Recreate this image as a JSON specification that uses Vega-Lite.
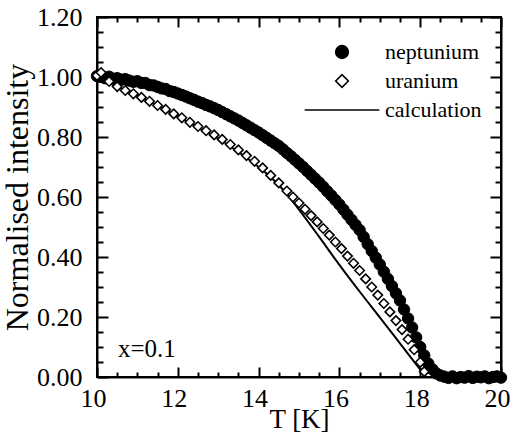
{
"$schema": "https://vega.github.io/schema/vega-lite/v6.json",
"width": 404, "height": 360,
"autosize": {"type": "none"},
"padding": {"left": 97, "top": 17, "right": 10, "bottom": 66},
"background": "white",
"config": {
 "view": {"stroke": "black", "strokeWidth": 2},
 "font": "Liberation Serif",
 "axis": {"domainColor": "black", "domainWidth": 2, "tickColor": "black", "tickWidth": 2, "labelColor": "black", "labelFont": "Liberation Serif", "labelFontSize": 26, "titleFont": "Liberation Serif", "titleFontSize": 30, "titleFontWeight": "normal", "titleColor": "black", "grid": false, "labelFlush": false, "labelOverlap": false},
 "legend": {"title": null, "orient": "none", "legendX": 234, "legendY": 24, "padding": 0, "labelFont": "Liberation Serif", "labelFontSize": 22, "labelColor": "black", "symbolSize": 160, "symbolStrokeColor": "black", "symbolStrokeWidth": 1.6, "labelOffset": 32, "rowPadding": 7}
},
"data": {"values": [
{"series":"neptunium","T":10.0,"I":1.003},{"series":"neptunium","T":10.1,"I":1.000},{"series":"neptunium","T":10.2,"I":0.996},{"series":"neptunium","T":10.3,"I":1.001},{"series":"neptunium","T":10.4,"I":0.994},{"series":"neptunium","T":10.5,"I":0.996},{"series":"neptunium","T":10.6,"I":0.991},{"series":"neptunium","T":10.7,"I":0.993},{"series":"neptunium","T":10.8,"I":0.988},{"series":"neptunium","T":10.9,"I":0.984},
{"series":"neptunium","T":11.0,"I":0.986},{"series":"neptunium","T":11.1,"I":0.980},{"series":"neptunium","T":11.2,"I":0.980},{"series":"neptunium","T":11.3,"I":0.973},{"series":"neptunium","T":11.4,"I":0.972},{"series":"neptunium","T":11.5,"I":0.967},{"series":"neptunium","T":11.6,"I":0.962},{"series":"neptunium","T":11.7,"I":0.960},{"series":"neptunium","T":11.8,"I":0.953},{"series":"neptunium","T":11.9,"I":0.950},
{"series":"neptunium","T":12.0,"I":0.945},{"series":"neptunium","T":12.1,"I":0.940},{"series":"neptunium","T":12.2,"I":0.935},{"series":"neptunium","T":12.3,"I":0.929},{"series":"neptunium","T":12.4,"I":0.924},{"series":"neptunium","T":12.5,"I":0.918},{"series":"neptunium","T":12.6,"I":0.913},{"series":"neptunium","T":12.7,"I":0.907},{"series":"neptunium","T":12.8,"I":0.902},{"series":"neptunium","T":12.9,"I":0.896},
{"series":"neptunium","T":13.0,"I":0.890},{"series":"neptunium","T":13.1,"I":0.883},{"series":"neptunium","T":13.2,"I":0.876},{"series":"neptunium","T":13.3,"I":0.869},{"series":"neptunium","T":13.4,"I":0.862},{"series":"neptunium","T":13.5,"I":0.855},{"series":"neptunium","T":13.6,"I":0.847},{"series":"neptunium","T":13.7,"I":0.839},{"series":"neptunium","T":13.8,"I":0.831},{"series":"neptunium","T":13.9,"I":0.823},
{"series":"neptunium","T":14.0,"I":0.815},{"series":"neptunium","T":14.1,"I":0.806},{"series":"neptunium","T":14.2,"I":0.797},{"series":"neptunium","T":14.3,"I":0.788},{"series":"neptunium","T":14.4,"I":0.779},{"series":"neptunium","T":14.5,"I":0.770},{"series":"neptunium","T":14.6,"I":0.759},{"series":"neptunium","T":14.7,"I":0.747},{"series":"neptunium","T":14.8,"I":0.736},{"series":"neptunium","T":14.9,"I":0.724},
{"series":"neptunium","T":15.0,"I":0.712},{"series":"neptunium","T":15.1,"I":0.700},{"series":"neptunium","T":15.2,"I":0.687},{"series":"neptunium","T":15.3,"I":0.674},{"series":"neptunium","T":15.4,"I":0.661},{"series":"neptunium","T":15.5,"I":0.648},{"series":"neptunium","T":15.6,"I":0.634},{"series":"neptunium","T":15.7,"I":0.619},{"series":"neptunium","T":15.8,"I":0.605},{"series":"neptunium","T":15.9,"I":0.590},
{"series":"neptunium","T":16.0,"I":0.575},{"series":"neptunium","T":16.1,"I":0.558},{"series":"neptunium","T":16.2,"I":0.541},{"series":"neptunium","T":16.3,"I":0.524},{"series":"neptunium","T":16.4,"I":0.507},{"series":"neptunium","T":16.5,"I":0.490},{"series":"neptunium","T":16.6,"I":0.467},{"series":"neptunium","T":16.7,"I":0.443},{"series":"neptunium","T":16.8,"I":0.420},{"series":"neptunium","T":16.9,"I":0.398},
{"series":"neptunium","T":17.0,"I":0.375},{"series":"neptunium","T":17.1,"I":0.351},{"series":"neptunium","T":17.2,"I":0.327},{"series":"neptunium","T":17.3,"I":0.303},{"series":"neptunium","T":17.4,"I":0.279},{"series":"neptunium","T":17.5,"I":0.255},{"series":"neptunium","T":17.6,"I":0.225},{"series":"neptunium","T":17.7,"I":0.195},{"series":"neptunium","T":17.8,"I":0.165},{"series":"neptunium","T":17.9,"I":0.132},
{"series":"neptunium","T":18.0,"I":0.100},{"series":"neptunium","T":18.1,"I":0.072},{"series":"neptunium","T":18.2,"I":0.045},{"series":"neptunium","T":18.3,"I":0.026},{"series":"neptunium","T":18.4,"I":0.012},{"series":"neptunium","T":18.5,"I":0.005},{"series":"neptunium","T":18.6,"I":0.001},{"series":"neptunium","T":18.7,"I":-0.003},{"series":"neptunium","T":18.8,"I":0.002},{"series":"neptunium","T":18.9,"I":-0.004},
{"series":"neptunium","T":19.0,"I":0.000},{"series":"neptunium","T":19.1,"I":-0.002},{"series":"neptunium","T":19.2,"I":0.003},{"series":"neptunium","T":19.3,"I":-0.003},{"series":"neptunium","T":19.4,"I":0.001},{"series":"neptunium","T":19.5,"I":-0.001},{"series":"neptunium","T":19.6,"I":0.002},{"series":"neptunium","T":19.7,"I":-0.004},{"series":"neptunium","T":19.8,"I":0.000},{"series":"neptunium","T":19.9,"I":0.002},{"series":"neptunium","T":20.0,"I":-0.002},
{"series":"uranium","T":10.0,"I":1.005},{"series":"uranium","T":10.1,"I":1.015},{"series":"uranium","T":10.3,"I":0.985},{"series":"uranium","T":10.5,"I":0.968},{"series":"uranium","T":10.7,"I":0.955},{"series":"uranium","T":10.9,"I":0.944},
{"series":"uranium","T":11.1,"I":0.932},{"series":"uranium","T":11.3,"I":0.919},{"series":"uranium","T":11.5,"I":0.905},{"series":"uranium","T":11.7,"I":0.892},{"series":"uranium","T":11.9,"I":0.877},
{"series":"uranium","T":12.1,"I":0.864},{"series":"uranium","T":12.3,"I":0.849},{"series":"uranium","T":12.5,"I":0.835},{"series":"uranium","T":12.7,"I":0.821},{"series":"uranium","T":12.9,"I":0.807},
{"series":"uranium","T":13.1,"I":0.792},{"series":"uranium","T":13.3,"I":0.775},{"series":"uranium","T":13.5,"I":0.757},{"series":"uranium","T":13.7,"I":0.738},{"series":"uranium","T":13.9,"I":0.719},
{"series":"uranium","T":14.1,"I":0.697},{"series":"uranium","T":14.3,"I":0.672},{"series":"uranium","T":14.5,"I":0.647},{"series":"uranium","T":14.7,"I":0.620},{"series":"uranium","T":14.85,"I":0.600},
{"series":"uranium","T":15.0,"I":0.580},{"series":"uranium","T":15.15,"I":0.559},{"series":"uranium","T":15.3,"I":0.538},{"series":"uranium","T":15.45,"I":0.517},{"series":"uranium","T":15.6,"I":0.495},{"series":"uranium","T":15.75,"I":0.473},{"series":"uranium","T":15.9,"I":0.450},
{"series":"uranium","T":16.05,"I":0.428},{"series":"uranium","T":16.2,"I":0.403},{"series":"uranium","T":16.35,"I":0.379},{"series":"uranium","T":16.5,"I":0.355},{"series":"uranium","T":16.65,"I":0.327},{"series":"uranium","T":16.8,"I":0.300},{"series":"uranium","T":16.95,"I":0.273},
{"series":"uranium","T":17.1,"I":0.245},{"series":"uranium","T":17.25,"I":0.217},{"series":"uranium","T":17.4,"I":0.188},{"series":"uranium","T":17.55,"I":0.158},{"series":"uranium","T":17.7,"I":0.126},{"series":"uranium","T":17.85,"I":0.091},
{"series":"uranium","T":18.0,"I":0.049},{"series":"uranium","T":18.1,"I":0.018},
{"series":"calculation","T":10.0,"I":1.000},{"series":"calculation","T":10.5,"I":0.968},{"series":"calculation","T":11.0,"I":0.938},{"series":"calculation","T":11.5,"I":0.905},{"series":"calculation","T":12.0,"I":0.869},{"series":"calculation","T":12.5,"I":0.832},{"series":"calculation","T":13.0,"I":0.795},{"series":"calculation","T":13.5,"I":0.750},{"series":"calculation","T":14.0,"I":0.700},{"series":"calculation","T":14.25,"I":0.672},{"series":"calculation","T":14.5,"I":0.640},{"series":"calculation","T":14.75,"I":0.601},{"series":"calculation","T":15.0,"I":0.558},{"series":"calculation","T":15.25,"I":0.513},{"series":"calculation","T":15.5,"I":0.467},{"series":"calculation","T":16.0,"I":0.374},{"series":"calculation","T":16.5,"I":0.285},{"series":"calculation","T":17.0,"I":0.199},{"series":"calculation","T":17.5,"I":0.112},{"series":"calculation","T":18.0,"I":0.025},{"series":"calculation","T":18.15,"I":0.000}
]},
"resolve": {"scale": {"x": "independent", "y": "independent"}},
"layer": [
 {
  "transform": [{"filter": "datum.series === 'calculation'"}],
  "mark": {"type": "line", "color": "black", "strokeWidth": 2, "interpolate": "monotone"},
  "encoding": {
   "x": {"field": "T", "type": "quantitative", "scale": {"domain": [10, 20], "nice": false, "zero": false},
    "axis": {"orient": "top", "title": null, "labels": false, "values": [10,10.5,11,11.5,12,12.5,13,13.5,14,14.5,15,15.5,16,16.5,17,17.5,18,18.5,19,19.5,20],
     "tickSize": {"condition": {"test": "datum.value % 2 === 0", "value": -10}, "value": -5}}},
   "y": {"field": "I", "type": "quantitative", "scale": {"domain": [0, 1.2], "nice": false, "zero": false},
    "axis": {"orient": "right", "title": null, "labels": false, "values": [0,0.05,0.1,0.15,0.2,0.25,0.3,0.35,0.4,0.45,0.5,0.55,0.6,0.65,0.7,0.75,0.8,0.85,0.9,0.95,1,1.05,1.1,1.15,1.2],
     "tickSize": {"condition": {"test": "round(datum.value*100) % 20 === 0", "value": -11}, "value": -6}}}
  }
 },
 {
  "transform": [{"filter": "datum.series === 'neptunium'"}],
  "mark": {"type": "point", "size": 130, "strokeWidth": 1, "opacity": 1},
  "encoding": {
   "x": {"field": "T", "type": "quantitative", "scale": {"domain": [10, 20], "nice": false, "zero": false},
    "axis": {"orient": "bottom", "title": "T [K]", "titleFontSize": 27, "titleBaseline": "alphabetic", "titleY": 50, "values": [10,10.5,11,11.5,12,12.5,13,13.5,14,14.5,15,15.5,16,16.5,17,17.5,18,18.5,19,19.5,20],
     "labelExpr": "datum.value % 2 === 0 ? format(datum.value, 'd') : ''",
     "tickSize": {"condition": {"test": "datum.value % 2 === 0", "value": -10}, "value": -5},
     "labelBaseline": "alphabetic", "labelPadding": 39, "labelOffset": -4}},
   "y": {"field": "I", "type": "quantitative", "scale": {"domain": [0, 1.2], "nice": false, "zero": false},
    "axis": {"orient": "left", "title": "Normalised intensity", "titleFontSize": 32, "values": [0,0.05,0.1,0.15,0.2,0.25,0.3,0.35,0.4,0.45,0.5,0.55,0.6,0.65,0.7,0.75,0.8,0.85,0.9,0.95,1,1.05,1.1,1.15,1.2],
     "labelExpr": "round(datum.value*100) % 20 === 0 ? format(datum.value, '.2f') : ''",
     "tickSize": {"condition": {"test": "round(datum.value*100) % 20 === 0", "value": -11}, "value": -6},
     "labelPadding": 26, "titlePadding": 2}},
   "shape": {"field": "series", "type": "nominal", "scale": {"domain": ["neptunium", "uranium", "calculation"], "range": ["circle", "diamond", "M-5.9,0H5.9"]}},
   "fill": {"field": "series", "type": "nominal", "scale": {"domain": ["neptunium", "uranium", "calculation"], "range": ["black", "white", "black"]}},
   "stroke": {"field": "series", "type": "nominal", "scale": {"domain": ["neptunium", "uranium", "calculation"], "range": ["black", "black", "black"]}}
  }
 },
 {
  "transform": [{"filter": "datum.series === 'uranium'"}],
  "mark": {"type": "point", "shape": "diamond", "size": 90, "fill": "white", "stroke": "black", "strokeWidth": 1.6, "opacity": 1},
  "encoding": {
   "x": {"field": "T", "type": "quantitative", "scale": {"domain": [10, 20], "nice": false, "zero": false}, "axis": null},
   "y": {"field": "I", "type": "quantitative", "scale": {"domain": [0, 1.2], "nice": false, "zero": false}, "axis": null}
  }
 },
 {
  "data": {"values": [{"label": "x=0.1"}]},
  "mark": {"type": "text", "align": "left", "baseline": "alphabetic", "font": "Liberation Serif", "fontSize": 25, "color": "black"},
  "encoding": {
   "x": {"datum": 10.52, "type": "quantitative", "scale": {"domain": [10, 20], "nice": false, "zero": false}, "axis": null},
   "y": {"datum": 0.067, "type": "quantitative", "scale": {"domain": [0, 1.2], "nice": false, "zero": false}, "axis": null},
   "text": {"field": "label"}
  }
 }
]
}
